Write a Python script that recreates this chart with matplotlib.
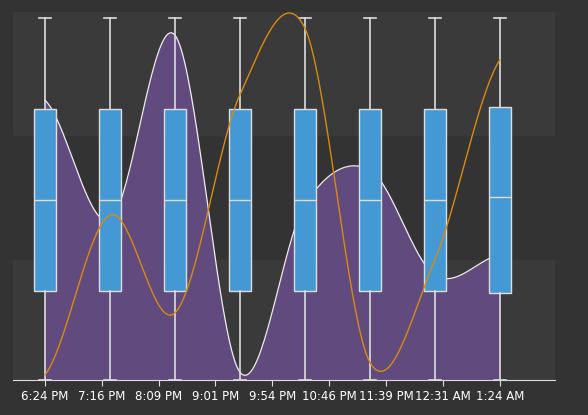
import numpy as np
import matplotlib
matplotlib.use("Agg")
import matplotlib.pyplot as plt

tick_labels = ["6:24 PM","7:16 PM","8:09 PM","9:01 PM","9:54 PM","10:46 PM","11:39 PM","12:31 AM","1:24 AM"]
box_min = [0]*8
box_q1 = [89,89,89,89,89,89,89,87]
box_med = [180,180,180,180,180,180,180,183]
box_q3 = [271,271,271,271,271,271,271,273]
box_max = [362]*8
area_vals = [280,160,345,8,175,210,105,125]
line_vals = [5,165,67,285,352,18,120,320]

def catmull(y, n=40):
    y = np.asarray(y, float)
    p = np.concatenate([[y[0]], y, [y[-1]]])
    xs, ys = [], []
    for i in range(len(y)-1):
        t = np.linspace(0,1,n,endpoint=False)
        p0,p1,p2,p3 = p[i],p[i+1],p[i+2],p[i+3]
        ys.append(0.5*((2*p1)+(-p0+p2)*t+(2*p0-5*p1+4*p2-p3)*t**2+(-p0+3*p1-3*p2+p3)*t**3))
        xs.append(i+t)
    xs.append([len(y)-1]); ys.append([y[-1]])
    return np.concatenate(xs), np.concatenate(ys)

fig = plt.figure(figsize=(5.88,4.15), dpi=100, facecolor="#333333")
ax = fig.add_axes([13/588, 1-380/415, (555-13)/588, 368/415])
ax.set_facecolor("#333333")
ax.set_xlim(-0.49, 7.85); ax.set_ylim(0, 368)
ax.axhspan(0,120,color="#3a3a3a",zorder=0)
ax.axhspan(245,368,color="#3a3a3a",zorder=0)

xs, ys = catmull(area_vals)
ax.fill_between(xs, 0, ys, color="#644c82", alpha=0.95, zorder=1, linewidth=0)
ax.plot(xs, ys, color="#eeeeee", lw=0.9, zorder=1.5)

ax.bxp([dict(whislo=a,q1=b,med=c,q3=d,whishi=e,fliers=[]) for a,b,c,d,e in zip(box_min,box_q1,box_med,box_q3,box_max)],
       positions=range(8), widths=0.34, patch_artist=True, showfliers=False,
       boxprops=dict(facecolor="#4499d4",edgecolor="#dddddd",linewidth=1),
       medianprops=dict(color="#dddddd",linewidth=1),
       whiskerprops=dict(color="#dddddd",linewidth=1.2),
       capprops=dict(color="#dddddd",linewidth=1.2), capwidths=0.18, zorder=2)

xs2, ys2 = catmull(line_vals)
ax.plot(xs2, ys2, color="#d88a10", lw=1, zorder=3)

for s in ["top","right","left"]:
    ax.spines[s].set_visible(False)
ax.spines["bottom"].set_color("#dddddd")
ax.set_yticks([])
ax.set_xticks([7*j/8 for j in range(9)])
ax.set_xticklabels(tick_labels, color="white", fontsize=8.5)
ax.tick_params(axis="x", colors="#dddddd", length=4, labelcolor="white")
fig.savefig("out.png", facecolor="#333333")
